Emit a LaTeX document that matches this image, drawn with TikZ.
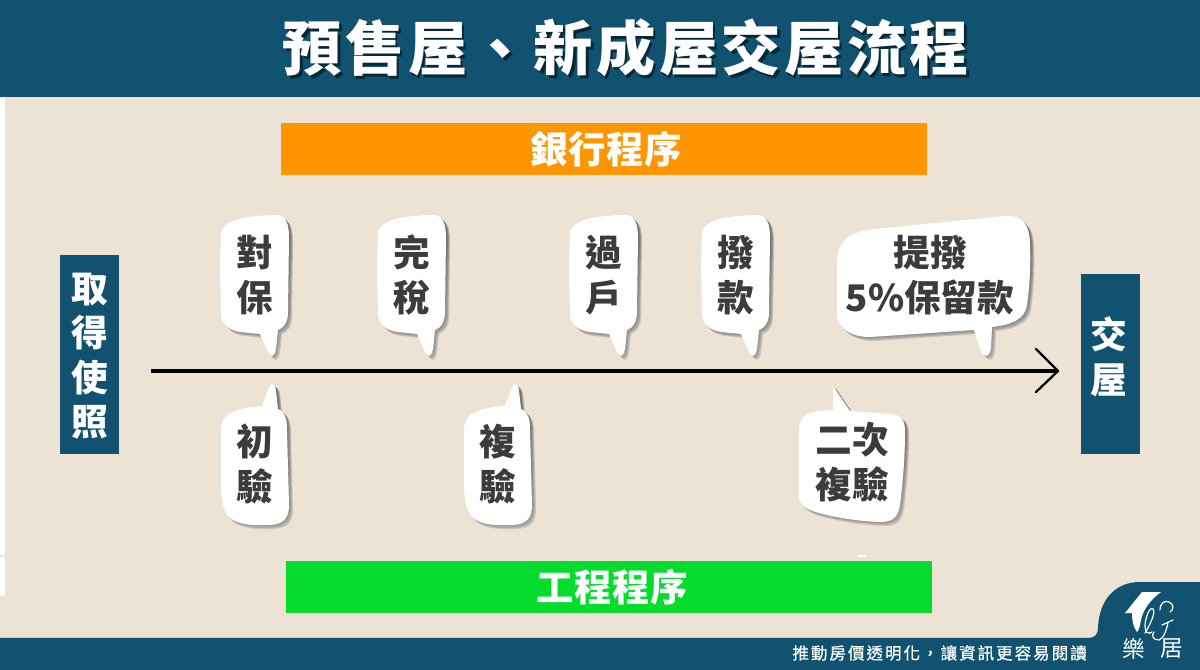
\documentclass[tikz,border=0pt]{standalone}
\usepackage{fontspec}
\setmainfont{Noto Sans CJK TC}
\newfontfamily\cjk{Noto Sans CJK TC}
\newfontfamily\cjkT[LetterSpace=5.7]{Noto Sans CJK TC}
\newfontfamily\cjkB[LetterSpace=2]{Noto Sans CJK TC}
\newfontfamily\cjkF[LetterSpace=12,FakeBold=0.6]{Noto Sans CJK TC}
\definecolor{navy}{HTML}{10526F}
\definecolor{paper}{HTML}{ECE3D5}
\definecolor{ink}{HTML}{3C3C3C}
\definecolor{orangebar}{HTML}{FF9500}
\definecolor{greenbar}{HTML}{06DC2D}
\definecolor{shade}{HTML}{5E5648}
\tikzset{
  x=0.75pt,y=-0.75pt,
  bubbletext/.style={text=ink,align=center,font=\cjk\bfseries\fontsize{27.5}{33.75}\selectfont,inner sep=0pt},
  sidetext/.style={text=white,align=center,font=\cjk\bfseries\fontsize{27.5}{33.4}\selectfont,inner sep=0pt},
  bartext/.style={text=white,font=\cjkB\bfseries\fontsize{28}{34}\selectfont,inner sep=0pt},
  titletext/.style={font=\cjkT\bfseries\fontsize{44.5}{50}\selectfont,inner sep=0pt},
  logotext/.style={text=white,font=\cjk\fontsize{17}{20}\selectfont,inner sep=0pt},
  script/.style={white,line width=.9pt,line cap=round},
}
\def\bubUp{(221,232) .. controls (225,221) and (240,216) .. (275,215) .. controls (286,215) and (289,223) .. (289,238) -- (288,312) .. controls (288,322) and (284,328) .. (278,330) -- (276,349) .. controls (275,354) and (273,356) .. (272,356) .. controls (270,356) and (269,354) .. (267,350) -- (260,334) -- (240,332) .. controls (228,330) and (222,324) .. (221,315) -- (220,265) -- cycle}
\def\bubDown{(221,430) .. controls (221,414) and (234,408) .. (262,406) -- (268,390) .. controls (270,386) and (271,384) .. (272,384) .. controls (274,384) and (275,386) .. (276,390) -- (278,409) .. controls (285,412) and (287,418) .. (287,430) -- (289,505) .. controls (289,518) and (284,524) .. (270,525) .. controls (250,526) and (235,524) .. (228,516) .. controls (223,510) and (222,500) .. (221,490) -- cycle}
\def\bubWide{(837,262) .. controls (837,240) and (850,232) .. (875,229) -- (1005,216) .. controls (1022,215) and (1030,224) .. (1030,245) .. controls (1031,270) and (1029,290) .. (1027,305) .. controls (1025,320) and (1010,325) .. (992,327) -- (991,348) .. controls (990,354) and (988,356) .. (986,356) .. controls (984,356) and (982,354) .. (980,349) -- (974,330) -- (870,337) .. controls (850,337) and (838,328) .. (837,315) -- cycle}
\def\bubSecond{(799,430) .. controls (799,416) and (806,411) .. (833,410) -- (833,386) -- (850,411) -- (890,414) .. controls (902,415) and (905,420) .. (905,432) .. controls (905,460) and (902,490) .. (900,505) .. controls (898,518) and (892,522) .. (880,522) .. controls (855,521) and (825,516) .. (810,510) .. controls (802,506) and (799,502) .. (799,495) -- cycle}
\newcommand\speech[2][]{%
  \begin{scope}[#1]
    \foreach \d in {1,2,3,4}{\fill[shade,opacity=.17,shift={(\d,\d)}] #2;}
    \fill[white] #2;
  \end{scope}}
\begin{document}
\begin{tikzpicture}
\useasboundingbox (0,0) rectangle (1200,670);
\fill[paper] (0,0) rectangle (1200,670);
\fill[white] (0,97) rectangle (5,596);
\fill[paper] (0,555) rectangle (5,557);
\fill[white] (858,555) rectangle (866,557);
% header
\fill[navy] (0,0) rectangle (1200,97);
\node[titletext,text=black,opacity=.5] (titleshadow) at (628.5,51) {預售屋、新成屋交屋流程};
\node[titletext,text=white] (title) at (626,48) {預售屋、新成屋交屋流程};
% bars
\node[fill=orangebar,minimum width=484.5pt,minimum height=39pt,inner sep=0pt] (bank) at (604,149) {};
\node[bartext] (banktext) at (606.5,149) {銀行程序};
\node[fill=greenbar,minimum width=484.5pt,minimum height=39pt,inner sep=0pt] (works) at (609,587) {};
\node[bartext] (workstext) at (612.5,587) {工程程序};
% side boxes
\node[fill=navy,minimum width=44.25pt,minimum height=149.25pt,inner sep=0pt] (getbox) at (89.5,354.5) {};
\node[sidetext] (gettext) at (90,356) {取\\得\\使\\照};
\node[fill=navy,minimum width=44.25pt,minimum height=135pt,inner sep=0pt] (handbox) at (1110.5,364) {};
\node[sidetext] (handtext) at (1109,357) {交\\屋};
% axis
\coordinate (axisstart) at (151,371);
\coordinate (axisend) at (1058,371);
\coordinate (barbtop) at (1036,349);
\coordinate (barbbot) at (1036,392);
\draw[black,line width=3pt] (axisstart) -- (axisend);
\draw[black,line width=1.7pt,line cap=round,line join=round] (barbtop) -- (axisend) -- (barbbot);
% bubbles
\speech{\bubUp}
\speech[shift={(157,0)}]{\bubUp}
\speech[shift={(349,0)}]{\bubUp}
\speech[shift={(481,0)}]{\bubUp}
\speech{\bubWide}
\speech{\bubDown}
\speech[shift={(243,0)}]{\bubDown}
\speech{\bubSecond}
\node[bubbletext] (b1) at (255,275) {對\\保};
\node[bubbletext] (b2) at (412,275) {完\\稅};
\node[bubbletext] (b3) at (604,275) {過\\戶};
\node[bubbletext] (b4) at (736,275) {撥\\款};
\node[bubbletext] (b5) at (930,275) {提撥\\5\%保留款};
\node[bubbletext] (c1) at (255,464) {初\\驗};
\node[bubbletext] (c2) at (498,464) {複\\驗};
\node[bubbletext] (c3) at (852,462) {二次\\複驗};
% footer
\fill[navy] (0,638) -- (1088,638) .. controls (1095,638) and (1098,634) .. (1098,628) .. controls (1099,600) and (1115,582) .. (1140,582) -- (1200,582) -- (1200,670) -- (0,670) -- cycle;
\draw[paper!70!gray,line width=.5pt] (0,637.5) -- (1088,637.5);
\node[text=white,font=\cjkF\fontsize{12.4}{15}\selectfont,inner sep=0pt,anchor=east] (slogan) at (1087,653) {推動房價透明化^^^^ff0c讓資訊更容易閱讀};
% logo
\fill[white] (1142,592) -- (1161,592) .. controls (1150,600) and (1143,610) .. (1141,620) .. controls (1140,626) and (1139,630) .. (1137,632) .. controls (1134,628) and (1132,622) .. (1132,613) -- (1125,613) -- cycle;
\draw[script] (1145,633) .. controls (1150,625) and (1156,612) .. (1153,609) .. controls (1149,606) and (1145,620) .. (1145,626) .. controls (1145,632) and (1148,635) .. (1152,632);
\draw[script] (1162,625) -- (1173,620) (1168,622) .. controls (1167,630) and (1163,639) .. (1159,640) .. controls (1153,640) and (1151,636) .. (1154,632);
\draw[script] (1160,610) .. controls (1160,603) and (1165,600) .. (1169,602) .. controls (1174,604) and (1174,610) .. (1170,612);
\node[logotext] (le) at (1134,649) {樂};
\node[logotext] (ju) at (1172,649) {居};
\end{tikzpicture}
\end{document}
